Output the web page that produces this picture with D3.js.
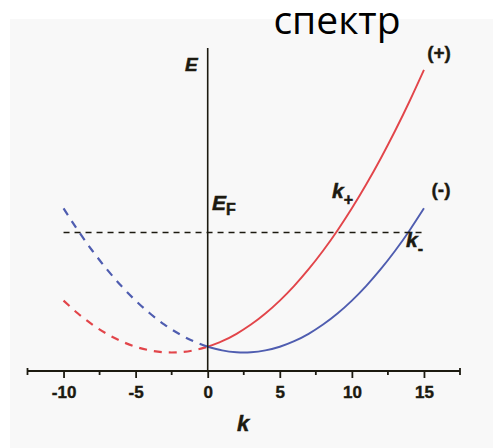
<!DOCTYPE html>
<html>
<head>
<meta charset="utf-8">
<script src="https://cdn.jsdelivr.net/npm/d3@7"></script>
<style>
  html, body { margin: 0; padding: 0; background: #ffffff; }
  svg { display: block; }
</style>
</head>
<body>
<svg id="chart" width="493" height="448"></svg>
<script>
// Wave vector samples (k) for the two spin branches
const kLeft  = [-10, -9, -8, -7, -6, -5, -4, -3, -2, -1, 0];
const kRight = [0, 1, 2, 3, 4, 5, 6, 7, 8, 9, 10, 11, 12, 13, 14, 15];

// (+) branch energies
const ePlusLeft  = [5.63, 4.23, 3.03, 2.03, 1.23, 0.63, 0.23, 0.03, 0.03, 0.23, 0.63];
const ePlusRight = [0.63, 1.23, 2.03, 3.03, 4.23, 5.63, 7.23, 9.03, 11.03, 13.23, 15.63,
                    18.23, 21.03, 24.03, 27.23, 30.63];

// (-) branch energies
const eMinusLeft  = [15.63, 13.23, 11.03, 9.03, 7.23, 5.63, 4.23, 3.03, 2.03, 1.23, 0.63];
const eMinusRight = [0.63, 0.23, 0.03, 0.03, 0.23, 0.63, 1.23, 2.03, 3.03, 4.23, 5.63,
                     7.23, 9.03, 11.03, 13.23, 15.63];

// Fermi level and its extent along k
const fermiLevel = 13.0;
const fermiRange = [-10, 15];

// Axis ticks
const majorTicks = [-10, -5, 0, 5, 10, 15];
const minorTicks = [-12.5, -7.5, -2.5, 2.5, 7.5, 12.5, 17.5];

const svg = d3.select("#chart");

// light panel behind the plot
svg.append("rect")
  .attr("x", 10).attr("y", 19)
  .attr("width", 483).attr("height", 429)
  .attr("fill", "#f8f8f8");

const x = d3.scaleLinear().domain([-12.5, 17.5]).range([27.5, 460]);
const y = d3.scaleLinear().domain([-2, 33]).range([371, 48]);

const red = "#e2454a";
const blue = "#4f5db0";
const ink = "#1c1a10";

const line = d3.line()
  .x(d => x(d[0]))
  .y(d => y(d[1]))
  .curve(d3.curveNatural);

const g = svg.append("g");

// dashed continuations for k < 0
g.append("path")
  .datum(d3.zip(kLeft, ePlusLeft))
  .attr("d", line)
  .attr("fill", "none").attr("stroke", red)
  .attr("stroke-width", 2.2).attr("stroke-dasharray", "8,7");

g.append("path")
  .datum(d3.zip(kLeft, eMinusLeft))
  .attr("d", line)
  .attr("fill", "none").attr("stroke", blue)
  .attr("stroke-width", 2.2).attr("stroke-dasharray", "8,7");

// solid branches for k >= 0
g.append("path")
  .datum(d3.zip(kRight, ePlusRight))
  .attr("d", line)
  .attr("fill", "none").attr("stroke", red)
  .attr("stroke-width", 1.9);

g.append("path")
  .datum(d3.zip(kRight, eMinusRight))
  .attr("d", line)
  .attr("fill", "none").attr("stroke", blue)
  .attr("stroke-width", 1.9);

// Fermi level
g.append("line")
  .attr("x1", x(fermiRange[0])).attr("x2", x(fermiRange[1]))
  .attr("y1", y(fermiLevel)).attr("y2", y(fermiLevel))
  .attr("stroke", ink).attr("stroke-width", 1.6)
  .attr("stroke-dasharray", "6,5");

// vertical energy axis at k = 0
g.append("line")
  .attr("x1", x(0)).attr("x2", x(0))
  .attr("y1", y.range()[1]).attr("y2", y.range()[0])
  .attr("stroke", ink).attr("stroke-width", 1.6);

// k axis
const xAxis = d3.axisBottom(x)
  .tickValues(majorTicks)
  .tickSize(7)
  .tickPadding(8)
  .tickFormat(d => String(d));

const axisG = svg.append("g")
  .attr("transform", `translate(0,${y(-2)})`)
  .call(xAxis);

axisG.select(".domain")
  .attr("d", `M${x.range()[0]},0H${x.range()[1]}`)
  .attr("stroke", ink).attr("stroke-width", 1.8);
axisG.selectAll(".tick line").attr("stroke", ink).attr("stroke-width", 1.8);
axisG.selectAll(".tick text")
  .attr("fill", ink)
  .attr("stroke", ink).attr("stroke-width", 0.4)
  .style("font-family", "'Liberation Sans', Arial, sans-serif")
  .style("font-size", "17px")
  .style("font-weight", "bold");

axisG.selectAll(".minor")
  .data(minorTicks)
  .enter().append("line")
  .attr("x1", d => x(d)).attr("x2", d => x(d))
  .attr("y1", (d, i) => (i === 0 || i === minorTicks.length - 1) ? -3 : -1)
  .attr("y2", 4)
  .attr("stroke", ink).attr("stroke-width", 1.8);

// text labels
const labelFont = "'Liberation Sans', Arial, sans-serif";

function label(px, py, main, sub, size, italic, subDy) {
  const t = svg.append("text")
    .attr("x", px).attr("y", py)
    .attr("fill", ink)
    .attr("stroke", ink).attr("stroke-width", 0.5)
    .style("font-family", labelFont)
    .style("font-size", size + "px")
    .style("font-weight", "bold");
  t.append("tspan").text(main).style("font-style", italic ? "italic" : "normal");
  if (sub) {
    t.append("tspan")
      .attr("dy", subDy)
      .style("font-size", Math.round(size * 0.75) + "px")
      .style("font-style", "normal")
      .text(sub);
  }
  return t;
}

label(185, 71, "E", null, 19, true);
label(212, 210, "E", "F", 21, true, 5);
label(332, 198, "k", "+", 21, true, 7);
label(406, 247, "k", "-", 21, true, 7);
label(237, 431, "k", null, 22, true);

svg.append("text")
  .attr("x", 439).attr("y", 59)
  .attr("text-anchor", "middle")
  .attr("fill", ink)
  .attr("stroke", ink).attr("stroke-width", 0.4)
  .style("font-family", labelFont)
  .style("font-size", "19px").style("font-weight", "bold")
  .text("(+)");

svg.append("text")
  .attr("x", 441).attr("y", 196)
  .attr("text-anchor", "middle")
  .attr("fill", ink)
  .attr("stroke", ink).attr("stroke-width", 0.4)
  .style("font-family", labelFont)
  .style("font-size", "19px").style("font-weight", "bold")
  .text("(-)");

// heading
svg.append("text")
  .attr("x", 337).attr("y", 34)
  .attr("text-anchor", "middle")
  .attr("fill", "#000")
  .style("font-family", "'Open Sans', 'Noto Sans', sans-serif")
  .style("font-size", "39px")
  .text("спектр");
</script>
</body>
</html>
